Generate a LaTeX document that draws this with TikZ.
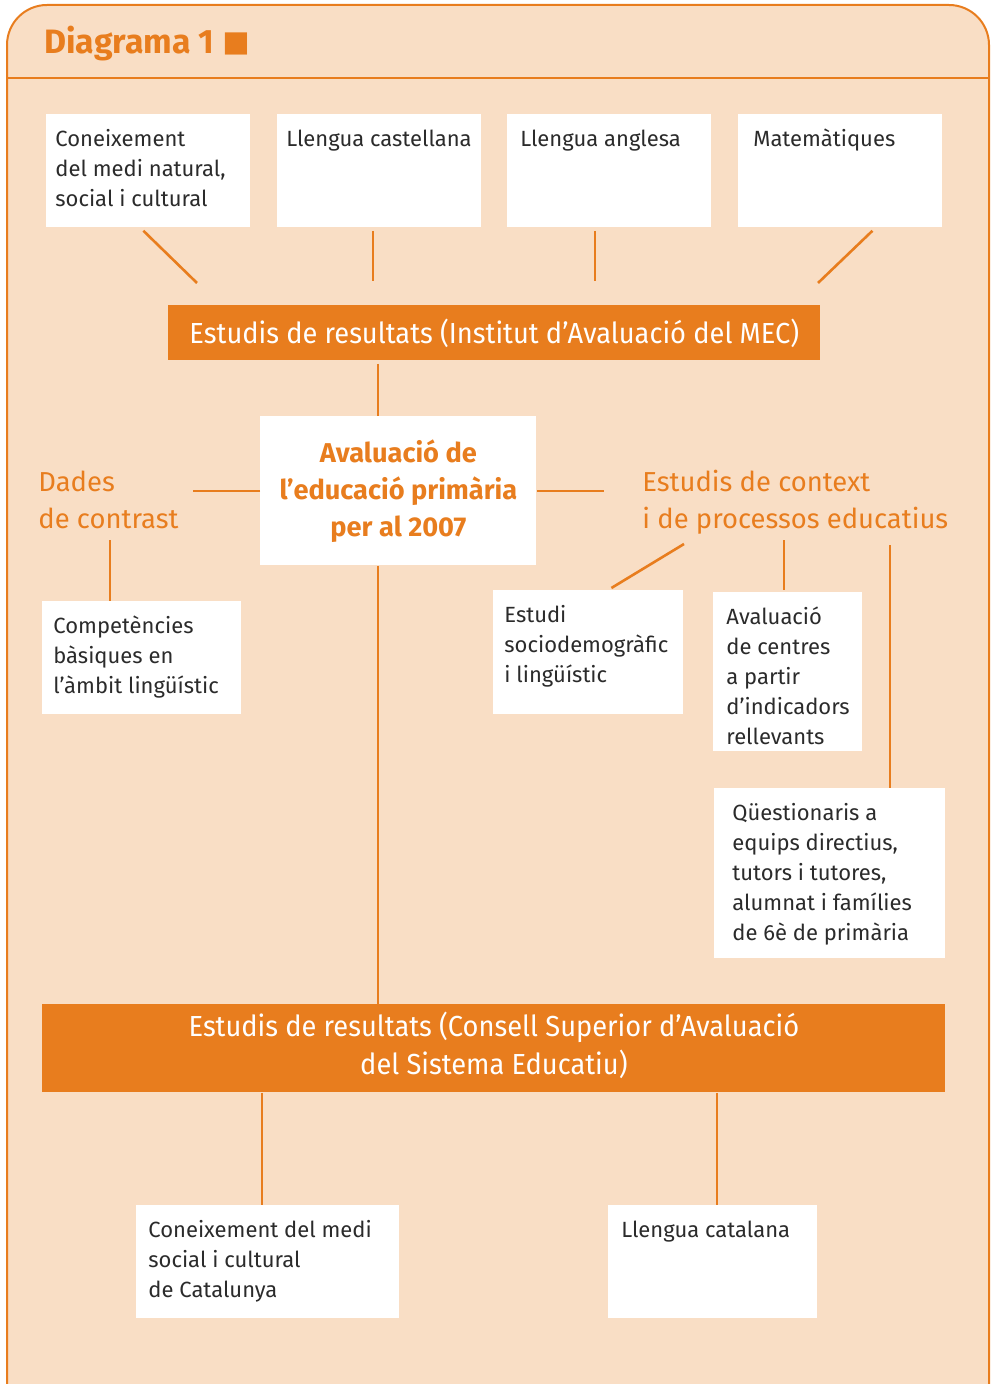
\documentclass[tikz,border=0pt]{standalone}
\usepackage{fontspec}
\setmainfont{Fira Sans}
\newfontfamily\condfont[FakeStretch=0.94]{Fira Sans}
\newfontfamily\symfont{DejaVu Sans}
\usepackage{tikz}
\usetikzlibrary{positioning}

\definecolor{peach}{HTML}{F9DEC5}
\definecolor{ora}{HTML}{E87D1E}
\definecolor{ink}{HTML}{2B2B2B}

% text of a white cell, set from the top
\newcommand{\celltext}[3]{\parbox[t][#2][t]{#1}{\vspace*{5.5pt}\strut#3}}

\tikzset{
  link/.style={draw=ora, line width=1.3pt},
  cell/.style={fill=white, anchor=north west, inner xsep=5.5pt, inner ysep=0pt,
    text=ink, font=\fontsize{11}{15}\selectfont},
  bar/.style={fill=ora, anchor=north west, inner sep=0pt, text=white, align=center,
    font=\condfont\fontsize{14.5}{19}\selectfont},
  tag/.style={anchor=base west, inner sep=0pt, text=ora, align=left,
    font=\fontsize{13.7}{18.5}\selectfont}
}

\begin{document}
\begin{tikzpicture}[x=0.5pt, y=-0.5pt]
\useasboundingbox (0,0) rectangle (990,1384);

%frame
\draw[ora, fill=peach, line width=1pt, rounded corners=20pt] (7,1384) -- (7,5) -- (989,5) -- (989,1384);
\draw[ora, line width=1pt] (7,78) -- (989,78);
\node[anchor=base west, inner sep=0pt, text=ora, font=\bfseries\fontsize{16.9}{19}\selectfont] (title) at (44,54)
  {Diagrama 1 \raisebox{1pt}{\symfont\fontsize{14.5}{14.5}\selectfont ■}};

%top row
\node[cell, inner xsep=4.5pt] (cono) at (46,114) {\celltext{93pt}{56.5pt}{Coneixement\\del medi natural,\\social i cultural}};
\node[cell, inner xsep=4.5pt] (llcast) at (277,114) {\celltext{93pt}{56.5pt}{Llengua castellana}};
\node[cell, inner xsep=6.5pt] (llang) at (507,114) {\celltext{89pt}{56.5pt}{Llengua anglesa}};
\node[cell, inner xsep=7.5pt] (mates) at (738,114) {\celltext{87pt}{56.5pt}{Matemàtiques}};

\node[bar, minimum width=326pt, minimum height=27.5pt] (bar1) at (168,305)
  {Estudis de resultats (Institut d’Avaluació del MEC)};

%middle
\node[fill=white, anchor=north west, minimum width=138pt, minimum height=74.5pt, inner sep=0pt,
  align=center, text=ora, font=\bfseries\fontsize{13.6}{18.5}\selectfont] (main) at (260,416)
  {Avaluació de\\l’educació primària\\per al 2007};

\node[tag] (dades) at (38,529) {Dades\\de contrast};
\node[tag] (context) at (642,529) {Estudis de context\\i de processos educatius};

\node[cell] (comp) at (42,601) {\celltext{88.5pt}{56.5pt}{Competències\\bàsiques en\\l’àmbit lingüístic}};
\node[cell] (socio) at (493,590) {\celltext{84pt}{62pt}{Estudi\\sociodemogràfic\\i lingüístic}};
\node[cell, inner xsep=6.5pt] (aval) at (713,592) {\celltext{61.5pt}{79.5pt}{Avaluació\\de centres\\a partir\\d’indicadors\\rellevants}};
\node[cell, inner xsep=9pt] (quest) at (714,788) {\celltext{97.5pt}{85pt}{Qüestionaris a\\equips directius,\\tutors i tutores,\\alumnat i famílies\\de 6è de primària}};

\node[bar, minimum width=451.5pt, minimum height=44pt] (bar2) at (42,1004)
  {Estudis de resultats (Consell Superior d’Avaluació\\del Sistema Educatiu)\rule[-5pt]{0pt}{0pt}};

%bottom row
\node[cell, inner xsep=6pt] (catal) at (136,1205) {\celltext{119.5pt}{56.5pt}{Coneixement del medi\\social i cultural\\de Catalunya}};
\node[cell, inner xsep=6.5pt] (llcat) at (608,1205) {\celltext{91.5pt}{56.5pt}{Llengua catalana}};

%joints
\coordinate (j1) at (197,283);
\coordinate (j2) at (373,281);
\coordinate (j3) at (595,281);
\coordinate (j4) at (818,283);
\coordinate (sp) at (378,0);
\coordinate (dj) at (193,0);
\coordinate (cj) at (604,0);
\coordinate (dd) at (110,540);
\coordinate (k1) at (684,544);
\coordinate (k2) at (784,540);
\coordinate (k3) at (890,545);
\coordinate (b1) at (262,0);
\coordinate (b2) at (717,0);

%connectors
\draw[link] ([shift={(-5,3)}]cono.south) -- (j1);
\draw[link] ([shift={(0,3)}]llcast.south -| j2) -- (j2);
\draw[link] ([shift={(0,3)}]llang.south -| j3) -- (j3);
\draw[link] ([shift={(32,3)}]mates.south) -- (j4);
\draw[link] ([shift={(0,3)}]bar1.south -| sp) -- (main.north -| sp);
\draw[link] (main.south -| sp) -- (bar2.north -| sp);
\draw[link] (main.west) -- (main.west -| dj);
\draw[link] (main.east) -- (main.east -| cj);
\draw[link] (dd) -- (comp.north -| dd);
\draw[link] (k1) -- ([shift={(23,-2)}]socio.north);
\draw[link] (k2) -- ([shift={(0,-2)}]aval.north -| k2);
\draw[link] (k3) -- (quest.north -| k3);
\draw[link] (bar2.south -| b1) -- (catal.north -| b1);
\draw[link] (bar2.south -| b2) -- (llcat.north -| b2);
\end{tikzpicture}
\end{document}
